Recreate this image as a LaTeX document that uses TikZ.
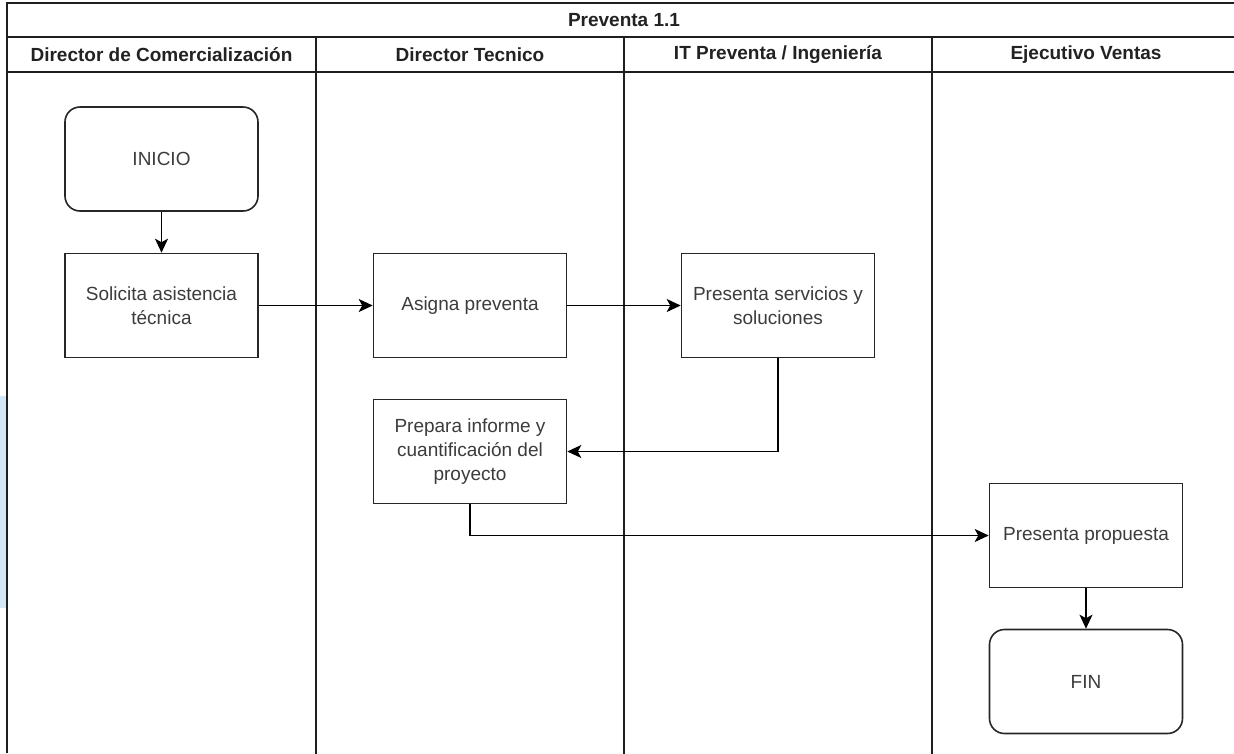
\documentclass[tikz,border=0pt]{standalone}
\usepackage{fontspec}
\setmainfont{Liberation Sans}
\usetikzlibrary{arrows.meta}

\definecolor{poolline}{HTML}{1E1E1E}
\definecolor{boxline}{HTML}{262626}
\definecolor{headtext}{HTML}{222222}
\definecolor{boxtext}{HTML}{3C3C3C}
\definecolor{sidetab}{HTML}{D3E8F6}

\tikzset{
  poolrule/.style={draw=poolline, line width=1.8pt},
  headlabel/.style={text=headtext, font=\fontsize{19}{23}\selectfont\bfseries, inner sep=0pt},
  taskbox/.style={draw=boxline, line width=1.6pt, fill=white, minimum width=193pt,
    minimum height=104pt, align=center, text=boxtext, inner sep=0pt,
    font=\fontsize{19}{24}\selectfont},
  termbox/.style={taskbox, rounded corners=15pt},
  flow/.style={draw=black, line width=1.6pt,
    -{Stealth[length=14pt, width=13pt, inset=3.5pt]}},
}

\begin{document}
\begin{tikzpicture}[x=1pt, y=-1pt]
  \useasboundingbox (0,0) rectangle (1234,753);
  \fill[white] (0,0) rectangle (1234,753);

  % small tab at the left margin
  \fill[sidetab] (0,396) rectangle (7,608);

  % pool frame, header rows and lane dividers
  \draw[poolrule] (7,753) -- (7,3) -- (1250,3);
  \draw[poolrule] (7,37) -- (1250,37);
  \draw[poolrule] (7,72) -- (1250,72);
  \foreach \lx in {316,624,932}
    \draw[poolrule] (\lx,37) -- (\lx,760);

  % pool title and lane headers
  \node[headlabel] (title) at (624,20) {Preventa 1.1};
  \node[headlabel] (lane1) at (161.5,55) {Director de Comercialización};
  \node[headlabel] (lane2) at (470,55) {Director Tecnico};
  \node[headlabel] (lane3) at (778,55) {IT Preventa / Ingeniería};
  \node[headlabel] (lane4) at (1086,55) {Ejecutivo Ventas};

  % process steps
  \node[termbox] (inicio) at (161.5,159) {INICIO};
  \node[taskbox] (solicita) at (161.5,305.5) {Solicita asistencia\\técnica};
  \node[taskbox] (asigna) at (470,305.5) {Asigna preventa};
  \node[taskbox] (servicios) at (778,305.5) {Presenta servicios y\\soluciones};
  \node[taskbox] (prepara) at (470,451.5) {Prepara informe y\\cuantificación del\\proyecto};
  \node[taskbox] (propuesta) at (1086,535.5) {Presenta propuesta};
  \node[termbox] (fin) at (1086,681.5) {FIN};

  % flow between steps
  \draw[flow] (inicio.south) -- (solicita.north);
  \draw[flow] (solicita.east) -- (asigna.west);
  \draw[flow] (asigna.east) -- (servicios.west);
  \draw[flow] (servicios.south) |- (prepara.east);
  \draw[flow] (prepara.south) |- (propuesta.west);
  \draw[flow] (propuesta.south) -- (fin.north);
\end{tikzpicture}
\end{document}
